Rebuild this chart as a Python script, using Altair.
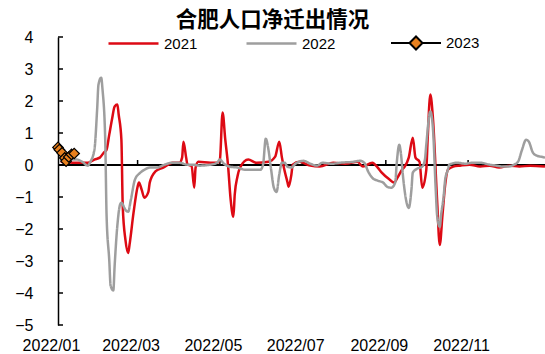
import altair as alt
import pandas as pd

# ---------------- data ----------------
start = "2022-01-01"
color_2021 = "#DD0A14"
color_2022 = "#9E9E9E"
color_2023 = "#000000"
diamond_fill = "#E8801E"

days_2021 = [2, 13, 22, 27, 31, 34, 36, 38, 40, 42, 44, 45, 47, 48, 50, 52, 53, 56, 59, 60,
             62, 64, 67, 68, 72, 78, 85, 90, 92, 93, 95, 96, 99, 101, 102, 104, 113, 118, 120, 122,
             124, 126, 128, 130, 131, 133, 135, 141, 147, 156, 161, 164, 166, 167, 170, 171, 173, 174, 179, 187,
             194, 204, 213, 222, 226, 233, 237, 240, 246, 249, 252, 255, 257, 260, 263, 265, 268, 270, 273, 274,
             276, 278, 281, 283, 285, 287, 289, 293, 298, 305, 313, 320, 327, 335, 342, 350, 361]
vals_2021 = [0.10, 0.07, 0.07, 0.17, 0.23, 0.39, 0.48, 0.95, 1.42, 1.83, 1.89, 1.57, 0.79, -1.31, -2.34, -2.75, -2.50, -1.49, -0.68, -0.55,
             -0.77, -1.02, -0.84, -0.55, -0.21, -0.08, 0.07, 0.07, 0.23, 0.73, 0.23, 0.01, -0.02, -0.71, -0.08, 0.10, 0.07, 0.07, 0.17, 1.64,
             0.79, 0.01, -1.09, -1.62, -0.93, -0.37, -0.08, 0.17, 0.07, 0.10, 0.26, 0.73, 0.23, 0.01, -0.52, -0.68, -0.30, 0.01, 0.10, -0.02,
             -0.05, 0.07, 0.04, 0.10, -0.05, 0.07, -0.08, -0.24, -0.46, -0.55, -0.37, -0.15, -0.05, 0.23, 0.85, 0.23, 0.10, -0.71, -0.15, 0.79,
             2.20, 1.42, -1.09, -2.50, -1.56, -0.62, -0.15, -0.05, -0.02, 0.01, -0.05, -0.02, -0.08, -0.02, -0.05, -0.02, -0.05]

days_2022 = [2, 5, 9, 14, 18, 22, 24, 27, 29, 30, 32, 33, 35, 36, 38, 39, 41, 42, 44, 46,
             47, 50, 52, 54, 57, 61, 64, 68, 73, 79, 84, 90, 96, 100, 105, 113, 118, 120, 123, 127,
             133, 139, 144, 150, 152, 154, 156, 158, 160, 162, 164, 166, 168, 170, 173, 176, 182, 187, 192, 196,
             203, 209, 219, 224, 227, 230, 233, 237, 241, 244, 247, 250, 251, 253, 254, 256, 258, 260, 262, 263,
             266, 270, 272, 273, 276, 278, 280, 281, 283, 284, 286, 287, 289, 290, 296, 302, 307, 313, 320, 325,
             330, 333, 338, 341, 344, 347, 349, 352, 355, 358, 361]
vals_2022 = [0.17, 0.10, 0.17, 0.17, 0.10, -0.02, 0.10, 0.48, 1.73, 2.51, 2.73, 2.36, 0.79, -1.56, -2.98, -3.77, -3.92, -3.14, -1.89, -1.24,
             -1.18, -1.40, -1.46, -1.09, -0.46, -0.24, -0.15, -0.08, -0.08, 0.01, 0.07, 0.07, 0.01, 0.01, -0.02, 0.01, 0.07, 0.17, 0.04, -0.05,
             -0.08, -0.15, -0.15, -0.15, 0.01, 0.82, 0.48, -0.15, -0.71, -0.84, -0.30, 0.07, 0.07, -0.05, -0.08, 0.04, 0.13, 0.04, -0.02, 0.07,
             0.04, 0.07, 0.10, 0.13, 0.07, -0.21, -0.40, -0.49, -0.55, -0.68, -0.71, -0.55, 0.01, 0.63, 0.42, -0.46, -1.09, -1.34, -0.77, -0.24,
             -0.12, -0.05, 0.17, 0.63, 1.67, 1.10, -0.77, -1.56, -1.93, -1.56, -0.93, -0.46, -0.15, 0.01, 0.07, 0.04, 0.07, 0.07, 0.01, -0.02,
             -0.05, -0.05, 0.01, 0.10, 0.48, 0.79, 0.73, 0.39, 0.29, 0.26, 0.23]

days_2023 = [0, 1, 3, 5, 6, 8, 10, 12]
vals_2023 = [0.55, 0.48, 0.38, 0.22, 0.12, 0.25, 0.33, 0.36]

y_ticks = [-5, -4, -3, -2, -1, 0, 1, 2, 3, 4]
label_months = [1, 3, 5, 7, 9, 11]
zero_tick_dates = ["2022-03-01", "2022-05-01", "2022-07-01", "2022-09-01", "2022-11-01"]
title_text = "合肥人口净迁出情况"

# ---------------- tables ----------------
def frame(days, vals, name):
    d = pd.to_datetime(start) + pd.to_timedelta(days, unit="D")
    return pd.DataFrame({"date": d.strftime("%Y-%m-%d"), "value": vals, "year": name})

df21 = frame(days_2021, vals_2021, "2021")
df22 = frame(days_2022, vals_2022, "2022")
df23 = frame(days_2023, vals_2023, "2023")
ticks_df = pd.DataFrame({"v": y_ticks})
zt_df = pd.DataFrame({"date": zero_tick_dates})

FONT = "Liberation Sans, Arial, sans-serif"

x_dom = [alt.DateTime(year=2022, month=1, date=1, utc=True),
         alt.DateTime(year=2022, month=12, date=28, utc=True)]
jan1 = alt.DateTime(year=2022, month=1, date=1, utc=True)
xscale = alt.Scale(type="utc", domain=x_dom, nice=False)
yscale = alt.Scale(domain=[-5, 4], nice=False, zero=False)

x_axis = alt.Axis(values=[alt.DateTime(year=2022, month=m, date=1, utc=True) for m in label_months],
                  labelExpr="utcFormat(datum.value, '%Y/%m')", domain=False, ticks=False,
                  grid=False, title=None, labelFontSize=16, labelFont=FONT, labelColor="black",
                  labelPadding=12, labelOffset=-7, labelFlush=False, labelOverlap=False)
y_axis = alt.Axis(values=y_ticks, format="d", ticks=False, tickSize=0, labelPadding=25,
                  domainColor="black", domainWidth=1.5, grid=False, title=None, labelOverlap=False,
                  labelFontSize=16, labelFont=FONT, labelColor="black")

X = lambda: alt.X("date:T", scale=xscale, axis=x_axis)
Y = lambda f="value": alt.Y(f"{f}:Q", scale=yscale, axis=y_axis)

LEG_Y = -20
def line_legend(x, col):
    return alt.Legend(orient="none", legendX=x, legendY=LEG_Y, title=None,
                      symbolType="stroke", symbolSize=2500, symbolStrokeWidth=2.5,
                      symbolStrokeColor=col, symbolOpacity=1,
                      labelFontSize=15, labelFont=FONT, labelColor="black", labelOffset=4, padding=0)

diamond_path = "M-1,0L-0.26,0M0.26,0L1,0M-0.26,0L0,-0.26L0.26,0L0,0.26Z"
marker_legend = alt.Legend(orient="none", legendX=332, legendY=LEG_Y, title=None,
                           symbolSize=2500, symbolStrokeWidth=2, symbolOpacity=1,
                           labelFontSize=15, labelFont=FONT, labelColor="black", labelOffset=4, padding=0)

zero_line = alt.Chart(zt_df).mark_rule(color="black", strokeWidth=1.5).encode(
    y=alt.datum(0, scale=yscale, axis=y_axis))

zero_ticks = alt.Chart(zt_df).mark_rule(color="black", strokeWidth=1.5, y2Offset=-5).encode(
    x=X(), y=alt.datum(0, scale=yscale, axis=y_axis), y2=alt.datum(0))

y_tick_marks = alt.Chart(ticks_df).mark_rule(color="black", strokeWidth=1.5, x2Offset=5).encode(
    x=alt.datum(jan1, type="temporal", scale=xscale, axis=x_axis),
    x2=alt.datum(jan1),
    y=Y("v"))

line_21 = alt.Chart(df21).mark_line(strokeWidth=2.5, interpolate="monotone", clip=True).encode(
    x=X(), y=Y(),
    color=alt.Color("year:N", scale=alt.Scale(domain=["2021"], range=[color_2021]),
                    legend=line_legend(49, color_2021)))

line_22 = alt.Chart(df22).mark_line(strokeWidth=2.5, interpolate="monotone", clip=True,
                                    color=color_2022).encode(
    x=X(), y=Y(),
    strokeDash=alt.StrokeDash("year:N", scale=alt.Scale(domain=["2022"], range=[[1, 0]]),
                              legend=line_legend(187, color_2022)))

line_23 = alt.Chart(df23).mark_line(strokeWidth=2.5, color=color_2023, clip=True).encode(x=X(), y=Y())

points = alt.Chart(df23).mark_point(shape="diamond", filled=True, fill=diamond_fill, stroke="black",
                                    strokeWidth=1.2, size=110, opacity=1).encode(x=X(), y=Y())

# legend-only layer for the 2023 line-with-marker key
key_dom = ["2023"]
marker_key = alt.Chart(df23).transform_filter("false").mark_point(
    filled=True, strokeWidth=2, opacity=1).encode(
    x=X(), y=Y(),
    shape=alt.Shape("year:N", scale=alt.Scale(domain=key_dom, range=[diamond_path]), legend=marker_legend),
    fill=alt.Fill("year:N", scale=alt.Scale(domain=key_dom, range=[diamond_fill]), legend=marker_legend),
    stroke=alt.Stroke("year:N", scale=alt.Scale(domain=key_dom, range=["black"]), legend=marker_legend))

chart = alt.layer(zero_line, zero_ticks, y_tick_marks, line_21, line_22, line_23, points,
                  marker_key).properties(
    width=487, height=288,
    autosize=alt.AutoSizeParams(type="none"),
    padding={"left": 58, "top": 37, "right": 0, "bottom": 29},
    title=alt.TitleParams(title_text, fontSize=21.5, font="Noto Sans CJK SC", fontWeight="bold",
                          color="black", anchor="middle", dx=-29, offset=-14),
    background="white",
).configure_view(stroke=None)

chart.save("out.html", embed_options={"renderer": "svg", "actions": False})
